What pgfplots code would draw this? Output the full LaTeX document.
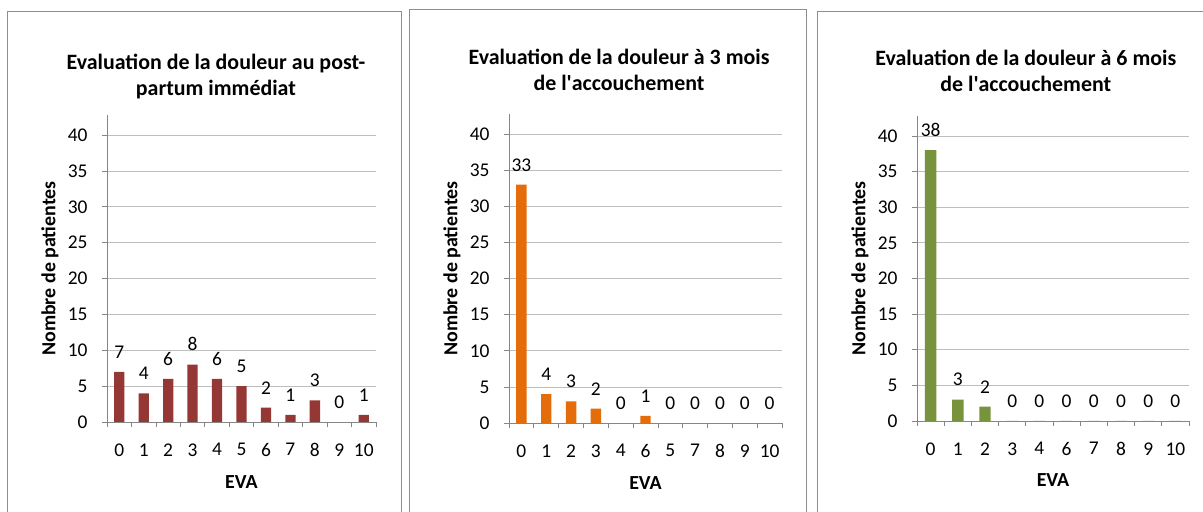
\documentclass[border=0pt]{standalone}
\usepackage{pgfplots}
\pgfplotsset{compat=1.18}
\usepackage{fontspec}
\setmainfont{Carlito}
\definecolor{c1}{HTML}{953735}
\definecolor{c2}{HTML}{E46C0A}
\definecolor{c3}{HTML}{77933C}
\definecolor{gridc}{HTML}{BEBEBE}
\definecolor{axc}{HTML}{868686}
\definecolor{framec}{HTML}{8E8E8E}
\newcommand{\tickfont}{\fontsize{19.5}{21}\selectfont}
\pgfplotsset{
  evastyle/.style={
    scale only axis,
    ybar,
    ymin=0, ymax=42.8,
    ytick={0,5,...,40},
    axis x line=bottom, axis y line=left,
    axis line style={-, draw=axc, line width=0.8bp},
    ymajorgrids, major grid style={draw=gridc, line width=0.8bp},
    tick align=outside,
    major tick length=5bp, minor tick length=5bp,
    tick style={draw=axc, line width=0.8bp},
    major x tick style={draw=none},
    /pgf/number format/assume math mode=true,
    ticklabel style={font=\tickfont, text=black},
    yticklabel style={xshift=-11bp},
    xticklabel style={yshift=-13bp},
    bar width=0.42,
    every axis plot/.append style={draw=none},
    nodes near coords,
    nodes near coords style={font=\tickfont, text=black, anchor=south, yshift=10bp},
    title style={font=\fontsize{22}{26}\selectfont\bfseries, align=center, anchor=center},
    ylabel={Nombre de patientes},
    xlabel={EVA},
    label style={font=\fontsize{20}{22}\selectfont\bfseries},
    xlabel style={at={(axis description cs:0.5,-0.195)}, anchor=center},
  }
}
\begin{document}
\begin{tikzpicture}
\useasboundingbox (0,0) rectangle (1203bp,512bp);
\clip (0,0) rectangle (1203bp,512bp);
\draw[framec, line width=1bp] (7bp,500bp) rectangle (401bp,-10bp);
\draw[framec, line width=1bp] (409bp,502bp) rectangle (806bp,-10bp);
\draw[framec, line width=1bp] (817bp,500bp) rectangle (1215bp,-10bp);

\begin{axis}[evastyle, at={(107bp,90bp)}, anchor=south west, width=269bp, height=307bp,
  xmin=-0.5, xmax=10.5, xtick={0,...,10},
  xticklabels={0,1,2,3,4,5,6,7,8,9,10},
  minor xtick={-0.5,0.5,...,10.5},
  title={Evaluation de la douleur au post-\\partum immédiat},
  title style={at={(axis description cs:0.405,1.107)}},
  ylabel style={at={(axis description cs:-0.212,0.5)}, anchor=center},
]
\addplot[fill=c1] coordinates {(0,7) (1,4) (2,6) (3,8) (4,6) (5,5) (6,2) (7,1) (8,3) (9,0) (10,1)};
\end{axis}

\begin{axis}[evastyle, at={(509bp,89bp)}, anchor=south west, width=273bp, height=309bp,
  xmin=-0.5, xmax=10.5, xtick={0,...,10},
  xticklabels={0,1,2,3,4,6,5,7,8,9,10},
  minor xtick={-0.5,0.5,...,10.5},
  title={Evaluation de la douleur à 3 mois\\de l\textquotesingle accouchement},
  title style={at={(axis description cs:0.403,1.123)}},
  ylabel style={at={(axis description cs:-0.209,0.5)}, anchor=center},
]
\addplot[fill=c2] coordinates {(0,33) (1,4) (2,3) (3,2) (4,0) (5,1) (6,0) (7,0) (8,0) (9,0) (10,0)};
\end{axis}

\begin{axis}[evastyle, at={(917bp,91bp)}, anchor=south west, width=272bp, height=305bp,
  xmin=-0.5, xmax=9.5, xtick={0,...,9},
  xticklabels={0,1,2,3,4,6,7,8,9,10},
  minor xtick={-0.5,0.5,...,9.5},
  title={Evaluation de la douleur à 6 mois\\de l\textquotesingle accouchement},
  title style={at={(axis description cs:0.40,1.127)}},
  ylabel style={at={(axis description cs:-0.21,0.5)}, anchor=center},
]
\addplot[fill=c3] coordinates {(0,38) (1,3) (2,2) (3,0) (4,0) (5,0) (6,0) (7,0) (8,0) (9,0)};
\end{axis}
\end{tikzpicture}
\end{document}
